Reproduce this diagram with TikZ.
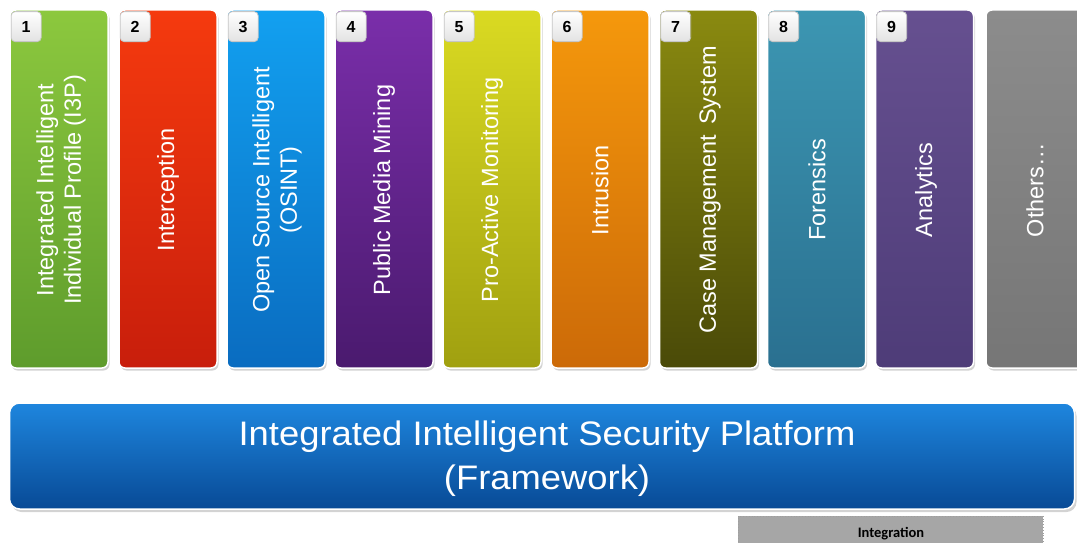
\documentclass[tikz,border=0pt]{standalone}
\usepackage{fontspec}
\setmainfont{Liberation Sans}
\newfontfamily\widefont[FakeStretch=1.07]{Liberation Sans}
\newfontfamily\calfont{Carlito}
\usetikzlibrary{shadows}
\definecolor{cA1}{HTML}{8CC83E}\definecolor{cA2}{HTML}{5E9C2C}
\definecolor{cB1}{HTML}{F53A0E}\definecolor{cB2}{HTML}{C81E0C}
\definecolor{cC1}{HTML}{12A0F0}\definecolor{cC2}{HTML}{0A6CC0}
\definecolor{cD1}{HTML}{7A2EAA}\definecolor{cD2}{HTML}{4A1A6E}
\definecolor{cE1}{HTML}{DADA22}\definecolor{cE2}{HTML}{A0A010}
\definecolor{cF1}{HTML}{F5980C}\definecolor{cF2}{HTML}{CC6A08}
\definecolor{cG1}{HTML}{8A8A10}\definecolor{cG2}{HTML}{4A4A08}
\definecolor{cH1}{HTML}{3C96B2}\definecolor{cH2}{HTML}{2A7090}
\definecolor{cI1}{HTML}{665090}\definecolor{cI2}{HTML}{4E3C78}
\definecolor{cJ1}{HTML}{8C8C8C}\definecolor{cJ2}{HTML}{767676}
\definecolor{barT}{HTML}{1E86DE}\definecolor{barB}{HTML}{084A96}
\definecolor{integfill}{HTML}{A6A6A6}
\tikzset{
  colbox/.style={draw=white, line width=1.5pt, rounded corners=6pt,
    minimum width=98pt, minimum height=358pt, inner sep=0pt,
    drop shadow={opacity=0.35, shadow xshift=1.5pt, shadow yshift=-2.5pt}},
  tabbox/.style={draw=gray!45, line width=0.8pt, rounded corners=4pt,
    top color=white, bottom color=gray!22, minimum width=30pt, minimum height=30pt,
    inner sep=0pt, font=\bfseries\fontsize{16}{16}\selectfont, text=black},
  coltext/.style={rotate=90, text=white, align=center, inner sep=0pt,
    font=\fontsize{23.5}{27.5}\selectfont},
  barbox/.style={draw=white, line width=1.5pt, rounded corners=10pt,
    top color=barT, bottom color=barB, minimum width=1065pt, minimum height=106pt,
    inner sep=0pt, drop shadow={opacity=0.35, shadow xshift=2pt, shadow yshift=-3pt}},
  bartext/.style={text=white, inner sep=0pt, font=\widefont\fontsize{34}{34}\selectfont},
  integbox/.style={draw=gray!75, dotted, line width=0.8pt, fill=integfill,
    minimum width=305pt, minimum height=40pt, inner sep=0pt},
}
\begin{document}
\begin{tikzpicture}[x=1pt,y=-1pt]
\useasboundingbox (0,0) rectangle (1077,543);
% columns
\foreach \i/\x/\tx/\c/\t in {
  1/59/61/A/{Integrated Intelligent\\Individual Profile (I3P)},
  2/168/168/B/{Interception},
  3/276/277/C/{Open Source Intelligent\\(OSINT)},
  4/384/384/D/{Public Media Mining},
  5/492/492/E/{Pro-Active Monitoring},
  6/600/600/F/{Intrusion},
  7/708.5/710/G/{Case Management\hspace{4pt} System},
  8/816.5/817/H/{Forensics},
  9/924.5/926/I/{Analytics},
  10/1035/1035/J/{Others\dots}}{
  \node[colbox, top color=c\c1, bottom color=c\c2] (c\i) at (\x,189) {};
  \node[coltext] (t\i) at (\tx,190) {\t};
}
\foreach \i in {1,...,9}{
  \node[tabbox, anchor=north west] (n\i) at ([xshift=1.5pt,yshift=-2pt]c\i.north west) {\i};
}
% platform bar
\node[barbox] (bar) at (542,456) {};
\node[bartext] (bar1) at (547,437) {Integrated Intelligent Security Platform};
\node[bartext] (bar2) at (547,481) {(Framework)};
% integration
\node[integbox] (integ) at (890.5,536) {};
\node[inner sep=0pt, font=\calfont\bfseries\fontsize{14.5}{14.5}\selectfont] (integt) at (891,534) {Integration};
\end{tikzpicture}
\end{document}
